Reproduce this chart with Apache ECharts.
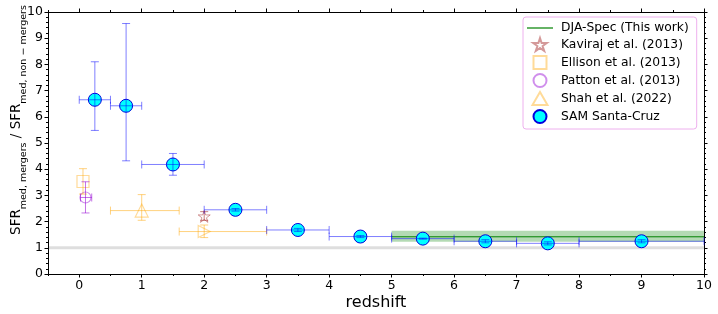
<!DOCTYPE html>
<html>
<head>
<meta charset="utf-8">
<script src="https://cdn.jsdelivr.net/npm/echarts@6/dist/echarts.min.js"></script>
<style>html,body{margin:0;padding:0;background:#fff}#c{width:718px;height:314px}</style>
</head>
<body>
<div id="c"></div>
<script>
// ---- data ----
var xTicks = [0,1,2,3,4,5,6,7,8,9,10];
var xMinorTicks = [-0.5,0.5,1.5,2.5,3.5,4.5,5.5,6.5,7.5,8.5,9.5];
// SAM Santa-Cruz
var samX   = [0.25, 0.75, 1.5, 2.5, 3.5, 4.5, 5.5, 6.5, 7.5, 9.0];
var samY   = [6.65, 6.42, 4.18, 2.45, 1.68, 1.43, 1.35, 1.25, 1.17, 1.25];
var samXlo = [0.0, 0.5, 1.0, 2.0, 3.0, 4.0, 5.0, 6.0, 7.0, 8.0];
var samXhi = [0.5, 1.0, 2.0, 3.0, 4.0, 5.0, 6.0, 7.0, 8.0, 10.0];
var samYlo = [5.48, 4.32, 3.77, 2.40, 1.62, 1.39, 1.33, 1.19, 1.11, 1.19];
var samYhi = [8.10, 9.56, 4.60, 2.50, 1.74, 1.47, 1.37, 1.31, 1.23, 1.31];
// Kaviraj et al. (2013)
var kavX = [2.0], kavY = [2.2], kavYlo = [2.05], kavYhi = [2.38];
// Ellison et al. (2013)
var ellX = [0.06], ellY = [3.53], ellYlo = [3.05], ellYhi = [4.02];
// Patton et al. (2013)
var patX = [0.1], patY = [2.92], patXlo = [0.02], patXhi = [0.2], patYlo = [2.33], patYhi = [3.52];
// Shah et al. (2022)
var shaX = [1.0], shaY = [2.42], shaXlo = [0.5], shaXhi = [1.6], shaYlo = [2.05], shaYhi = [3.03];
var sha2X = [2.0], sha2Y = [1.62], sha2Xlo = [1.6], sha2Xhi = [3.0], sha2Ylo = [1.39], sha2Yhi = [1.87];
// DJA-Spec (This work)
var djaX = [5, 10], djaY = [1.42, 1.42], djaLo = [1.23, 1.23], djaHi = [1.65, 1.65];
// reference line
var refX = [-0.5, 10], refY = [1, 1];

function errData(x, y, xlo, xhi, ylo, yhi) {
  return x.map(function (v, i) {
    return [v, y[i], xlo ? xlo[i] : v, xhi ? xhi[i] : v, ylo ? ylo[i] : y[i], yhi ? yhi[i] : y[i]];
  });
}
function errSeries(name, data, color, cap, z) {
  return {
    type: 'custom', name: name, z: z, data: data, silent: true,
    renderItem: function (params, api) {
      var x = api.value(0), y = api.value(1), xl = api.value(2), xh = api.value(3), yl = api.value(4), yh = api.value(5);
      var ch = [];
      var st = { stroke: color, lineWidth: 1 };
      if (xl !== xh) {
        var a = api.coord([xl, y]), b = api.coord([xh, y]);
        ch.push({ type: 'line', shape: { x1: a[0], y1: a[1], x2: b[0], y2: b[1] }, style: st });
        ch.push({ type: 'line', shape: { x1: a[0], y1: a[1] - cap, x2: a[0], y2: a[1] + cap }, style: st });
        ch.push({ type: 'line', shape: { x1: b[0], y1: b[1] - cap, x2: b[0], y2: b[1] + cap }, style: st });
      }
      if (yl !== yh) {
        var c = api.coord([x, yl]), d = api.coord([x, yh]);
        ch.push({ type: 'line', shape: { x1: c[0], y1: c[1], x2: d[0], y2: d[1] }, style: st });
        ch.push({ type: 'line', shape: { x1: c[0] - cap, y1: c[1], x2: c[0] + cap, y2: c[1] }, style: st });
        ch.push({ type: 'line', shape: { x1: d[0] - cap, y1: d[1], x2: d[0] + cap, y2: d[1] }, style: st });
      }
      return { type: 'group', children: ch };
    }
  };
}
function pts(x, y) { return x.map(function (v, i) { return [v, y[i]]; }); }

var starPath = 'path://M50,0 L61.2,34.5 L97.6,34.5 L68.2,55.9 L79.4,90.5 L50,69.1 L20.6,90.5 L31.8,55.9 L2.4,34.5 L38.8,34.5 Z';
var squarePath = 'path://M0,0 L10,0 L10,10 L0,10 Z';
var triPath = 'path://M50,0 L100,86.6 L0,86.6 Z';
var linePath = 'path://M0,0 L26,0 L26,1.2 L0,1.2 Z';

var FONT = 'DejaVu Sans';
var blueE = 'rgba(0,0,255,0.5)';
var orangeE = 'rgba(255,165,0,0.5)';
var purpleE = 'rgba(148,0,211,0.55)';
var brownE = 'rgba(165,42,42,0.6)';

var chart = echarts.init(document.getElementById('c'), null, { renderer: 'canvas' });

function xAx(pos, customs, len, showLine, showLabel, extra) {
  var o = {
    type: 'value', position: pos, min: -0.5, max: 10, offset: 0,
    splitLine: { show: false },
    axisLine: { show: showLine, onZero: false, lineStyle: { color: '#000', width: 1 } },
    axisTick: { show: true, inside: false, length: len, customValues: customs, lineStyle: { color: '#000', width: 1 } },
    axisLabel: { show: showLabel, customValues: customs, color: '#000', fontFamily: FONT, fontSize: 12.5, margin: 5 }
  };
  for (var k in extra) o[k] = extra[k];
  return o;
}
function yAx(pos, showLabel, extra) {
  var o = {
    type: 'value', position: pos, min: 0, max: 10, interval: 1, offset: 0,
    splitLine: { show: false },
    axisLine: { show: true, onZero: false, lineStyle: { color: '#000', width: 1 } },
    axisTick: { show: true, inside: false, length: 3.5, lineStyle: { color: '#000' } },
    minorTick: { show: true, splitNumber: 5, length: 2, lineStyle: { color: '#000' } },
    axisLabel: { show: showLabel, color: '#000', fontFamily: FONT, fontSize: 12.5, margin: 5 }
  };
  for (var k in extra) o[k] = extra[k];
  return o;
}

var option = {
  animation: false,
  backgroundColor: '#fff',
  grid: { left: 48, right: 14, top: 12, bottom: 40, containLabel: false, outerBoundsMode: 'none' },
  xAxis: [
    xAx('bottom', xTicks, 3.5, true, true, { name: 'redshift', nameLocation: 'middle', nameGap: 21, nameMoveOverlap: false, nameTextStyle: { fontFamily: FONT, fontSize: 16, color: '#000' } }),
    xAx('bottom', xMinorTicks, 2, false, false, {}),
    xAx('top', xTicks, 3.5, true, false, {}),
    xAx('top', xMinorTicks, 2, false, false, {})
  ],
  yAxis: [
    yAx('left', true, {
      name: '{m|SFR}{s|med, mergers}{m| / SFR}{s|med, non − mergers}',
      nameLocation: 'middle', nameRotate: 90, nameGap: 19, nameMoveOverlap: false,
      nameTextStyle: {
        color: '#000', padding: [0, 0, 0, 46],
        rich: {
          m: { fontFamily: FONT, fontSize: 13.5, lineHeight: 20, verticalAlign: 'top', color: '#000' },
          s: { fontFamily: FONT, fontSize: 9.5, lineHeight: 6, verticalAlign: 'bottom', color: '#000' }
        }
      }
    }),
    yAx('right', false, {})
  ],
  legend: {
    orient: 'vertical', left: 523, top: 17, width: 175,
    padding: [5, 8, 5, 4], itemGap: 3, itemWidth: 26, itemHeight: 13,
    backgroundColor: '#fff', borderColor: '#eeb0ee', borderWidth: 1, borderRadius: 3,
    textStyle: { fontFamily: FONT, fontSize: 12.3, color: '#000', padding: [0, 0, 0, 3] },
    data: [
      { name: 'DJA-Spec (This work)', icon: linePath, itemStyle: { color: 'green', borderWidth: 0 } },
      { name: 'Kaviraj et al. (2013)', icon: starPath },
      { name: 'Ellison et al. (2013)', icon: squarePath },
      { name: 'Patton et al. (2013)', icon: 'circle' },
      { name: 'Shah et al. (2022)', icon: triPath },
      { name: 'SAM Santa-Cruz', icon: 'circle' }
    ]
  },
  series: [
    { type: 'line', name: 'ref', data: pts(refX, refY), symbol: 'none', silent: true, z: 1,
      lineStyle: { color: 'rgba(0,0,0,0.13)', width: 3 } },
    { type: 'custom', name: 'band', silent: true, z: 2, data: djaX.map(function (v, i) { return [v, djaLo[i], djaHi[i]]; }),
      renderItem: function (params, api) {
        if (params.dataIndex !== 0) return;
        var p0 = api.coord([djaX[0], djaHi[0]]), p1 = api.coord([djaX[djaX.length - 1], djaLo[djaLo.length - 1]]);
        return { type: 'rect', shape: { x: p0[0], y: p0[1], width: p1[0] - p0[0], height: p1[1] - p0[1] },
          style: { fill: 'rgba(40,150,40,0.35)' } };
      } },
    { type: 'line', name: 'DJA-Spec (This work)', data: pts(djaX, djaY), symbol: 'none', z: 3,
      itemStyle: { color: 'green' }, lineStyle: { color: 'green', width: 1 } },
    { type: 'scatter', name: 'Kaviraj et al. (2013)', data: pts(kavX, kavY), symbol: starPath, symbolSize: 12, z: 4,
      itemStyle: { color: 'rgba(0,0,0,0)', borderColor: brownE, borderWidth: 1 } },
    errSeries('kav_err', errData(kavX, kavY, null, null, kavYlo, kavYhi), brownE, 4, 5),
    { type: 'scatter', name: 'Ellison et al. (2013)', data: pts(ellX, ellY), symbol: 'rect', symbolSize: 12, z: 4,
      itemStyle: { color: 'rgba(0,0,0,0)', borderColor: orangeE, borderWidth: 1.2 } },
    errSeries('ell_err', errData(ellX, ellY, null, null, ellYlo, ellYhi), orangeE, 4, 5),
    { type: 'scatter', name: 'Patton et al. (2013)', data: pts(patX, patY), symbol: 'circle', symbolSize: 11, z: 4,
      itemStyle: { color: 'rgba(0,0,0,0)', borderColor: purpleE, borderWidth: 1.2 } },
    errSeries('pat_err', errData(patX, patY, patXlo, patXhi, patYlo, patYhi), purpleE, 4, 5),
    { type: 'scatter', name: 'Shah et al. (2022)', data: pts(shaX, shaY), symbol: 'triangle', symbolSize: 13, z: 4,
      itemStyle: { color: 'rgba(0,0,0,0)', borderColor: orangeE, borderWidth: 1.2 } },
    errSeries('sha_err', errData(shaX, shaY, shaXlo, shaXhi, shaYlo, shaYhi), orangeE, 4, 5),
    { type: 'scatter', name: 'Shah2', data: pts(sha2X, sha2Y), symbol: 'triangle', symbolRotate: -90, symbolSize: 12, z: 4,
      itemStyle: { color: 'rgba(0,0,0,0)', borderColor: orangeE, borderWidth: 1.2 } },
    errSeries('sha2_err', errData(sha2X, sha2Y, sha2Xlo, sha2Xhi, sha2Ylo, sha2Yhi), orangeE, 4, 5),
    { type: 'scatter', name: 'SAM Santa-Cruz', data: pts(samX, samY), symbol: 'circle', symbolSize: 13, z: 6,
      itemStyle: { color: '#00ffff', borderColor: '#0000dd', borderWidth: 1, opacity: 1 } },
    errSeries('sam_err', errData(samX, samY, samXlo, samXhi, samYlo, samYhi), blueE, 4, 7)
  ]
};
chart.setOption(option);
</script>
</body>
</html>
